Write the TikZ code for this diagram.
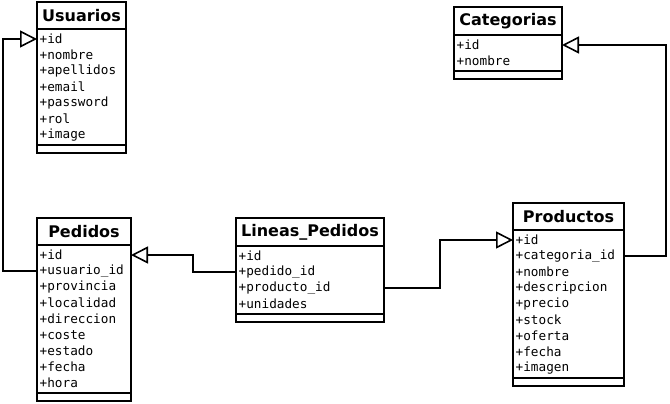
\documentclass[tikz,border=0pt]{standalone}
\usepackage{fontspec}
\newfontfamily\umlsans{DejaVu Sans}
\newfontfamily\umlmono{DejaVu Sans Mono}
\usetikzlibrary{positioning,arrows.meta}

\tikzset{
  clsbox/.style={draw, line width=1.8pt, rectangle, inner sep=0pt, outer sep=0pt},
  clstitle/.style={clsbox, minimum height=27pt, font=\umlsans\bfseries\fontsize{16}{19}\selectfont},
  clsfoot/.style={clsbox, minimum height=8pt},
  attr/.style={anchor=west, inner sep=0pt, font=\umlmono\fontsize{12.7}{16}\selectfont},
  rel/.style={line width=1.8pt, -{Triangle[open, length=17pt, width=17pt, line width=1.6pt]}}
}

\begin{document}
\begin{tikzpicture}[x=1pt, y=-1pt]
  \useasboundingbox[fill=white] (0,0) rectangle (670,404);

  % Usuarios
  \node[clstitle, minimum width=89pt] (usr) at (81.5,15.5) {Usuarios};
  \node[clsbox, minimum width=89pt, minimum height=116pt, below=0pt of usr] (usr-a) {};
  \node[clsfoot, minimum width=89pt, below=0pt of usr-a] (usr-f) {};
  \foreach \t [count=\i] in {+id,+nombre,+apellidos,+email,+password,+rol,+image}
    \node[attr] (usr-\i) at ([xshift=2.5pt, yshift={-10pt-16pt*(\i-1)}] usr-a.north west) {\t};

  % Categorias
  \node[clstitle, minimum width=108pt, minimum height=28pt] (cat) at (508,21) {Categorias};
  \node[clsbox, minimum width=108pt, minimum height=36pt, below=0pt of cat] (cat-a) {};
  \node[clsfoot, minimum width=108pt, below=0pt of cat-a] (cat-f) {};
  \foreach \t [count=\i] in {+id,+nombre}
    \node[attr] (cat-\i) at ([xshift=2.5pt, yshift={-10pt-16pt*(\i-1)}] cat-a.north west) {\t};

  % Pedidos
  \node[clstitle, minimum width=94pt] (ped) at (84,231.5) {Pedidos};
  \node[clsbox, minimum width=94pt, minimum height=148pt, below=0pt of ped] (ped-a) {};
  \node[clsfoot, minimum width=94pt, below=0pt of ped-a] (ped-f) {};
  \foreach \t [count=\i] in {+id,+usuario\_id,+provincia,+localidad,+direccion,+coste,+estado,+fecha,+hora}
    \node[attr] (ped-\i) at ([xshift=2.5pt, yshift={-10pt-16pt*(\i-1)}] ped-a.north west) {\t};

  % Lineas_Pedidos
  \node[clstitle, minimum width=148pt, minimum height=28pt] (lin) at (310,232) {Lineas\_Pedidos};
  \node[clsbox, minimum width=148pt, minimum height=68pt, below=0pt of lin] (lin-a) {};
  \node[clsfoot, minimum width=148pt, below=0pt of lin-a] (lin-f) {};
  \foreach \t [count=\i] in {+id,+pedido\_id,+producto\_id,+unidades}
    \node[attr] (lin-\i) at ([xshift=2.5pt, yshift={-10pt-16pt*(\i-1)}] lin-a.north west) {\t};

  % Productos
  \node[clstitle, minimum width=111pt] (prd) at (568.5,216.5) {Productos};
  \node[clsbox, minimum width=111pt, minimum height=148pt, below=0pt of prd] (prd-a) {};
  \node[clsfoot, minimum width=111pt, below=0pt of prd-a] (prd-f) {};
  \foreach \t [count=\i] in {+id,+categoria\_id,+nombre,+descripcion,+precio,+stock,+oferta,+fecha,+imagen}
    \node[attr] (prd-\i) at ([xshift=2.5pt, yshift={-10pt-16pt*(\i-1)}] prd-a.north west) {\t};

  % relations
  \coordinate (c1) at (3,0);
  \coordinate (c2) at (193,0);
  \coordinate (c3) at (440,0);
  \coordinate (c4) at (666,0);
  \draw[rel] (ped-2 -| ped.west) -- (ped-2 -| c1) -- (usr-1 -| c1) -- (usr-1 -| usr.west);
  \draw[rel] (lin-2 -| lin.west) -- (lin-2 -| c2) -- (ped-1 -| c2) -- (ped-1 -| ped.east);
  \draw[rel] (lin-3 -| lin.east) -- (lin-3 -| c3) -- (prd-1 -| c3) -- (prd-1 -| prd.west);
  \draw[rel] (prd-2 -| prd.east) -- (prd-2 -| c4) -- (cat-1 -| c4) -- (cat-1 -| cat.east);
\end{tikzpicture}
\end{document}
